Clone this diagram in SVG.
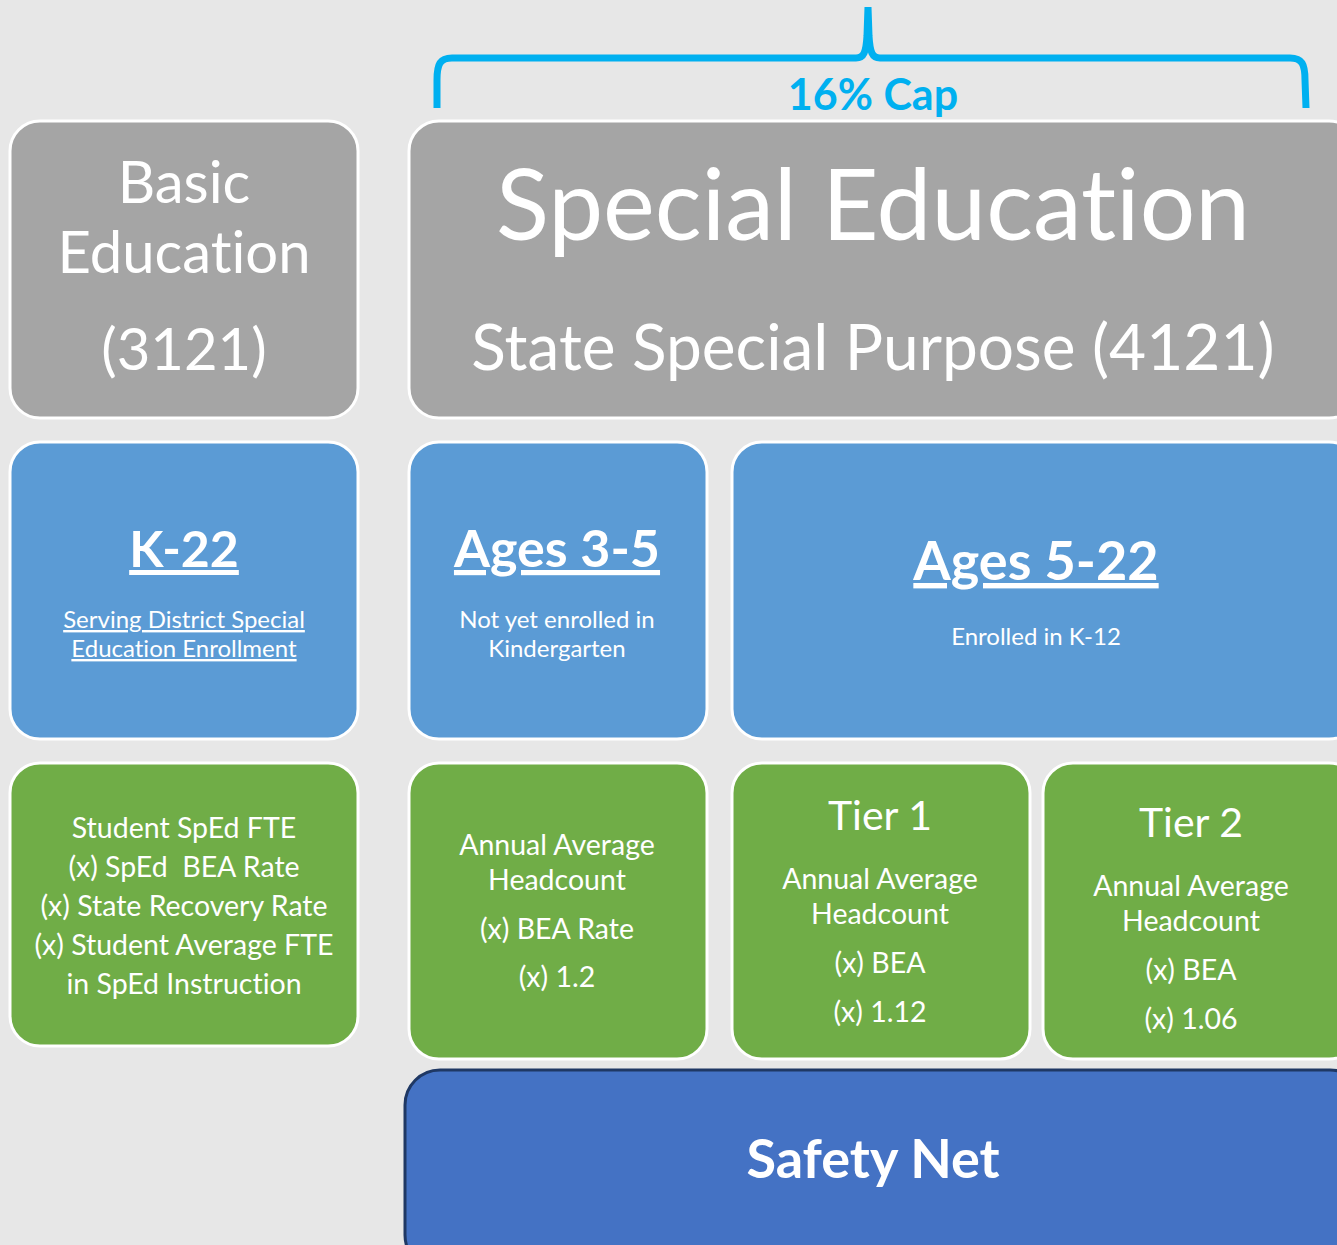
<svg xmlns="http://www.w3.org/2000/svg" width="1337" height="1245" viewBox="0 0 1337 1245">
<style>
.bg{fill:#e7e7e7}
.gray{fill:#a5a5a5;stroke:#ffffff;stroke-width:3}
.blue{fill:#5b9bd5;stroke:#ffffff;stroke-width:3}
.green{fill:#70ad47;stroke:#ffffff;stroke-width:3}
.net{fill:#4472c4;stroke:#1f3864;stroke-width:3}
text{font-family:Lato,"Open Sans","Liberation Sans",sans-serif;fill:#ffffff;text-anchor:middle;font-variant-ligatures:none}
.b{font-weight:bold}
.u{text-decoration:underline}
.cap{fill:#00b0f0;font-weight:bold}
.brace{fill:none;stroke:#00b0f0;stroke-width:7;stroke-linejoin:round}
.f{font-size:28.5px}
.s{font-size:24px}
</style>
<rect class="bg" x="0" y="0" width="1337" height="1245"/>
<g id="connectors">
<path class="brace" d="M437,108 L437,80 C437,64 440,58 452,58 L856,58 C864,58 866,52 867,36 L868,7 M868,7 L869,36 C870,52 872,58 880,58 L1290,58 C1302,58 1305,64 1305,80 L1306,108"/>
</g>
<g id="cap">
<text class="cap" x="873" y="110" font-size="43">16% Cap</text>
</g>
<g id="basic-education">
<rect class="gray" x="10" y="121" width="348" height="297" rx="30"/>
<text x="184" y="203" font-size="58">Basic</text>
<text x="184" y="273" font-size="58">Education</text>
<text x="184" y="370" font-size="58">(3121)</text>
</g>
<g id="special-education">
<rect class="gray" x="409" y="121" width="950" height="297" rx="30"/>
<text x="873" y="240" font-size="98">Special Education</text>
<text x="873" y="370" font-size="64">State Special Purpose (4121)</text>
</g>
<g id="k22">
<rect class="blue" x="10" y="442" width="348" height="297" rx="30"/>
<text class="b u" x="184" y="567" font-size="50">K-22</text>
<text class="u s" x="184" y="628">Serving District Special</text>
<text class="u s" x="184" y="657">Education Enrollment</text>
</g>
<g id="ages-3-5">
<rect class="blue" x="409" y="442" width="298" height="297" rx="30"/>
<text class="b u" x="557" y="567" font-size="52">Ages 3-5</text>
<text class="s" x="557" y="628" font-size="25">Not yet enrolled in</text>
<text class="s" x="557" y="657">Kindergarten</text>
</g>
<g id="ages-5-22">
<rect class="blue" x="732" y="442" width="627" height="297" rx="30"/>
<text class="b u" x="1036" y="580" font-size="54">Ages 5-22</text>
<text class="s" x="1036" y="645">Enrolled in K-12</text>
</g>
<g id="k22-formula">
<rect class="green" x="10" y="763" width="348" height="283" rx="30"/>
<text class="f" x="184" y="838">Student SpEd FTE</text>
<text class="f" x="184" y="877" xml:space="preserve">(x) SpEd  BEA Rate</text>
<text class="f" x="184" y="916">(x) State Recovery Rate</text>
<text class="f" x="184" y="955">(x) Student Average FTE</text>
<text class="f" x="184" y="994">in SpEd Instruction</text>
</g>
<g id="ages-3-5-formula">
<rect class="green" x="409" y="763" width="298" height="296" rx="30"/>
<text class="f" x="557" y="855">Annual Average</text>
<text class="f" x="557" y="890">Headcount</text>
<text class="f" x="557" y="939">(x) BEA Rate</text>
<text class="f" x="557" y="987">(x) 1.2</text>
</g>
<g id="tier-1">
<rect class="green" x="732" y="763" width="298" height="296" rx="30"/>
<text x="880" y="830" font-size="41">Tier 1</text>
<text class="f" x="880" y="889">Annual Average</text>
<text class="f" x="880" y="924">Headcount</text>
<text class="f" x="880" y="973">(x) BEA</text>
<text class="f" x="880" y="1022">(x) 1.12</text>
</g>
<g id="tier-2">
<rect class="green" x="1043" y="763" width="316" height="296" rx="30"/>
<text x="1191" y="837" font-size="41">Tier 2</text>
<text class="f" x="1191" y="896">Annual Average</text>
<text class="f" x="1191" y="931">Headcount</text>
<text class="f" x="1191" y="980">(x) BEA</text>
<text class="f" x="1191" y="1029">(x) 1.06</text>
</g>
<g id="safety-net">
<rect class="net" x="405" y="1070" width="960" height="200" rx="35"/>
<text class="b" x="873" y="1178" font-size="54">Safety Net</text>
</g>
</svg>
